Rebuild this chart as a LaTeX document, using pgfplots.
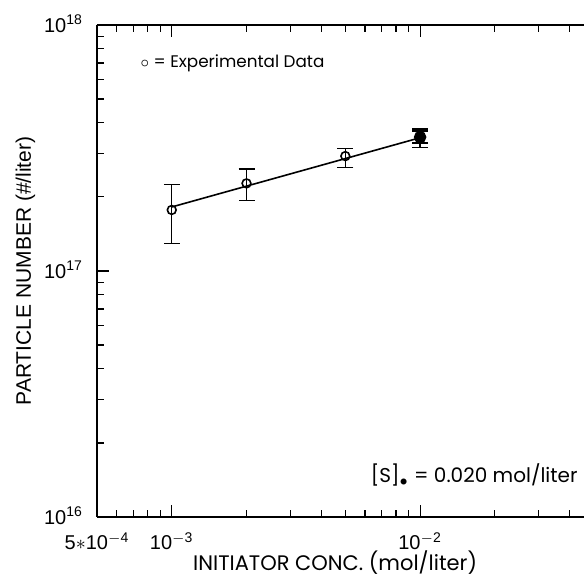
\documentclass[border=0pt]{standalone}
\usepackage{pgfplots}
\pgfplotsset{compat=1.18}
\usepackage{fontspec}
\setmainfont{Liberation Sans}
\newfontfamily\geo{Poppins}
\begin{document}
\begin{tikzpicture}
\begin{axis}[
  scale only axis,
  width=243.5pt, height=246pt,
  xmode=log, ymode=log,
  xmin=5e-4, xmax=0.0457,
  ymin=1e16, ymax=1e18,
  axis x line*=box, axis y line*=left,
  line width=1.4pt,
  tick style={line width=0.6pt, black},
  tick align=inside,
  major tick length=6pt, minor tick length=3.5pt,
  xtick={5e-4,1e-3,1e-2},
  xticklabels={5$*$10\textsuperscript{$-$4}, 10\textsuperscript{$-$3}, 10\textsuperscript{$-$2}},
  ytick={1e16,1e17,1e18},
  yticklabels={10\textsuperscript{16}, 10\textsuperscript{17}, 10\textsuperscript{18}},
  minor xtick={6e-4,7e-4,8e-4,9e-4,2e-3,3e-3,4e-3,5e-3,6e-3,7e-3,8e-3,9e-3,2e-2,3e-2,4e-2},
  minor ytick={2e16,3e16,4e16,5e16,6e16,7e16,8e16,9e16,2e17,3e17,4e17,5e17,6e17,7e17,8e17,9e17},
  ticklabel style={font=\fontsize{10}{12}\selectfont},
  xticklabel style={anchor=base, yshift=-16.5pt},
  yticklabel style={anchor=base east, yshift=-3.6pt, xshift=-3pt},
  xlabel={\geo INITIATOR CONC. (mol/liter)},
  ylabel={PARTICLE NUMBER (\#/liter)},
  xlabel style={font=\geo\fontsize{10.5}{12}\selectfont, at={(axis description cs:0.489,-0.0935)}, anchor=center},
  ylabel style={font=\fontsize{10.5}{12}\selectfont, at={(axis description cs:-0.147,0.5)}, anchor=center},
  clip=false,
]
\addplot[black, line width=0.8pt] coordinates {(1e-3,1.82e17) (1e-2,3.48e17)};
\addplot[black, only marks, mark=o, mark size=2.2pt, mark options={line width=0.8pt},
  error bars/.cd, y dir=both, y explicit,
  error bar style={line width=0.7pt}, error mark options={rotate=90, mark size=4pt, line width=0.7pt}]
  table[x=x, y=y, y error plus=ep, y error minus=em] {
  x      y        ep       em
  1e-3   1.77e17  0.47e17  0.48e17
  2e-3   2.27e17  0.33e17  0.34e17
  5e-3   2.93e17  0.22e17  0.29e17
  1e-2   3.46e17  0.31e17  0.28e17
};
\addplot[black, only marks, mark=*, mark size=2.4pt,
  error bars/.cd, y dir=both, y explicit,
  error bar style={line width=1.2pt}, error mark options={rotate=90, mark size=4pt, line width=1.0pt}]
  table[x=x, y=y, y error plus=ep, y error minus=em] {
  x      y        ep       em
  1e-2   3.50e17  0.20e17  0.20e17
};
\node[anchor=west, inner sep=0pt, font=\geo\fontsize{8.4}{11}\selectfont] at (axis cs:7.4e-4,7.0e17) {$\circ$ = Experimental Data};
\node[anchor=east, inner sep=0pt, font=\geo\fontsize{10}{12}\selectfont] at (axis cs:0.0436,1.48e16) {[S]$_{\bullet}$ = 0.020 mol/liter};
\end{axis}
\pgfresetboundingbox
\path[use as bounding box] ([xshift=-48.5pt,yshift=-30pt]current axis.south west) rectangle ([yshift=12.5pt]current axis.north east);
\end{tikzpicture}
\end{document}
